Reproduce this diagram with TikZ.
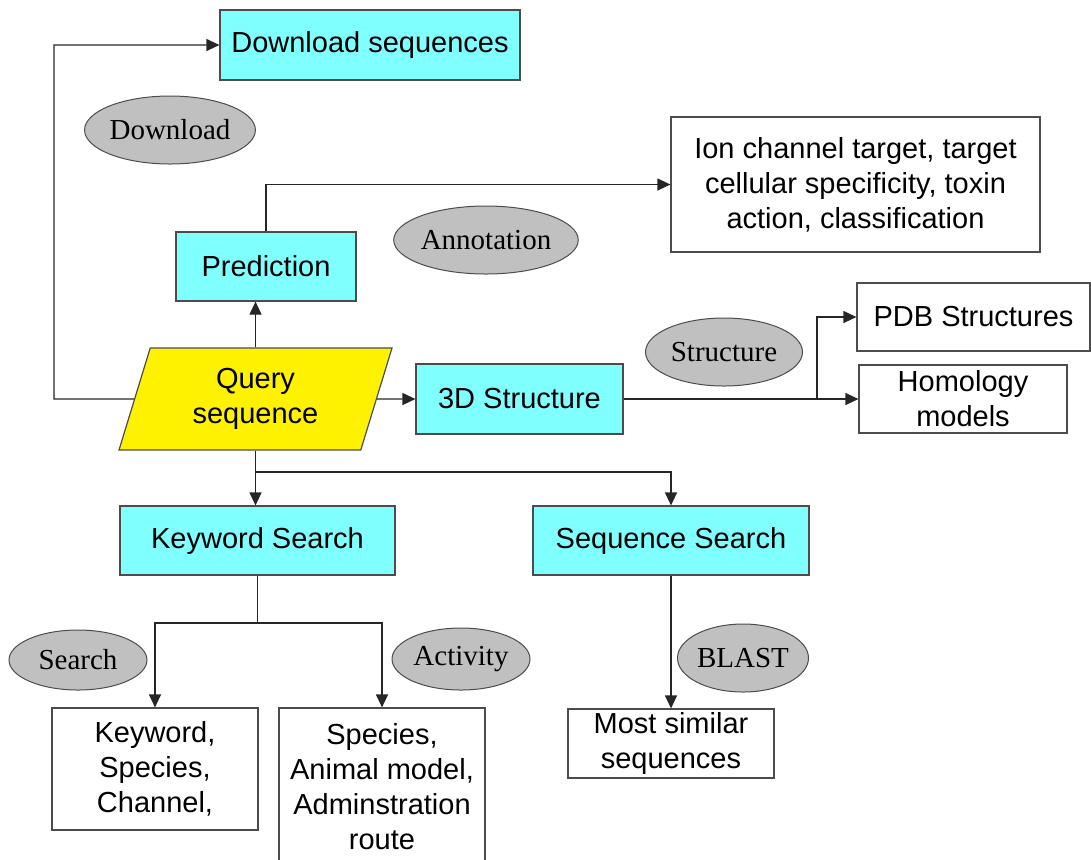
\documentclass[tikz,border=0pt]{standalone}
\usepackage{fontspec}
\setmainfont{Liberation Sans}
\newfontfamily\tnrfont{Liberation Serif}
\usetikzlibrary{arrows.meta,shapes.geometric}
\definecolor{boxcyan}{HTML}{80FFFF}
\definecolor{ovalgray}{HTML}{C0C0C0}
\begin{document}
\begin{tikzpicture}[x=0.5pt, y=-0.5pt, >={Triangle[length=6.5pt,width=6pt]},
        every node/.style={font=\fontsize{14.5}{17.5}\selectfont, inner sep=0pt, align=center},
        stepbox/.style={draw=black!70, line width=0.6pt, fill=boxcyan},
        resbox/.style={draw=black!70, line width=0.6pt, fill=white},
        tag/.style={ellipse, draw=black!70, line width=0.5pt, fill=ovalgray, font=\tnrfont\fontsize{14.5}{17.5}\selectfont},
        wire/.style={line width=0.6pt, draw=black!85},
        link/.style={wire, ->}]
            \useasboundingbox (0,0) rectangle (1091,859);
            \node[stepbox, minimum width=150pt, minimum height=35pt] (dl) at (370,45) {Download sequences};
            \node[stepbox, minimum width=90pt, minimum height=34.5pt] (pred) at (266,266.5) {Prediction};
            \node[resbox, minimum width=184.5pt, minimum height=67.5pt] (ion) at (855.5,184.5) {Ion channel target, target\\cellular specificity, toxin\\action, classification};
            \node[trapezium, trapezium left angle=63, trapezium right angle=117, trapezium stretches body,
                draw=black!70, line width=0.6pt, fill=yellow, minimum width=136.5pt, minimum height=51pt] (query) at (255.5,399) {Query\\sequence};
            \node[stepbox, minimum width=103.5pt, minimum height=35pt] (s3d) at (519.5,399) {3D Structure};
            \node[resbox, minimum width=116.5pt, minimum height=34pt] (pdb) at (973.5,317) {PDB Structures};
            \node[resbox, minimum width=104pt, minimum height=34pt] (hom) at (963,399) {Homology\\models};
            \node[stepbox, minimum width=137.5pt, minimum height=34.5pt] (kw) at (257.5,540.5) {Keyword Search};
            \node[stepbox, minimum width=138pt, minimum height=34.5pt] (seq) at (671,540.5) {Sequence Search};
            \node[resbox, minimum width=103pt, minimum height=61pt] (kwres) at (155,769) {Keyword,\\Species,\\Channel,};
            \node[resbox, minimum width=103pt, minimum height=78.5pt] (actres) at (382,786.5) {Species,\\Animal model,\\Adminstration\\route};
            \node[resbox, minimum width=103pt, minimum height=34.5pt] (sim) at (671,743.5) {Most similar\\sequences};
            \node[tag, minimum width=82pt, minimum height=34pt] (tdl) at (170,130) {Download};
            \node[tag, minimum width=87.5pt, minimum height=34pt] (tann) at (486,240) {Annotation};
            \node[tag, minimum width=78.5pt, minimum height=34pt] (tstr) at (724,352) {Structure};
            \node[tag, minimum width=69pt, minimum height=30pt] (tsrch) at (78,660) {Search};
            \node[tag, minimum width=69pt, minimum height=31pt] (tact) at (461,659) {Activity};
            \node[tag, minimum width=65.5pt, minimum height=34pt] (tblast) at (743,658) {BLAST};
            \coordinate (dlturn) at (54,399);
            \coordinate (split3d) at (817,399);
            \coordinate (qsplit) at (255.5,472);
            \coordinate (kwsplit) at (257.5,623);
            \draw[link] (query.west) -- (dlturn) |- (dl.west);
            \draw[link] (query.north) -- (query.north |- pred.south);
            \draw[link] (pred.north) |- (ion.west);
            \draw[link] (query.east) -- (s3d.west);
            \draw[link] (s3d.east) -- (hom.west);
            \draw[link] (split3d) |- (pdb.west);
            \draw[link] (query.south) -- (query.south |- kw.north);
            \draw[link] (qsplit) -| (seq.north);
            \draw[wire] (kw.south) -- (kwsplit);
            \draw[link] (kwsplit) -| (kwres.north);
            \draw[link] (kwsplit) -| (actres.north);
            \draw[link] (seq.south) -- (sim.north);
        \end{tikzpicture}
\end{document}
